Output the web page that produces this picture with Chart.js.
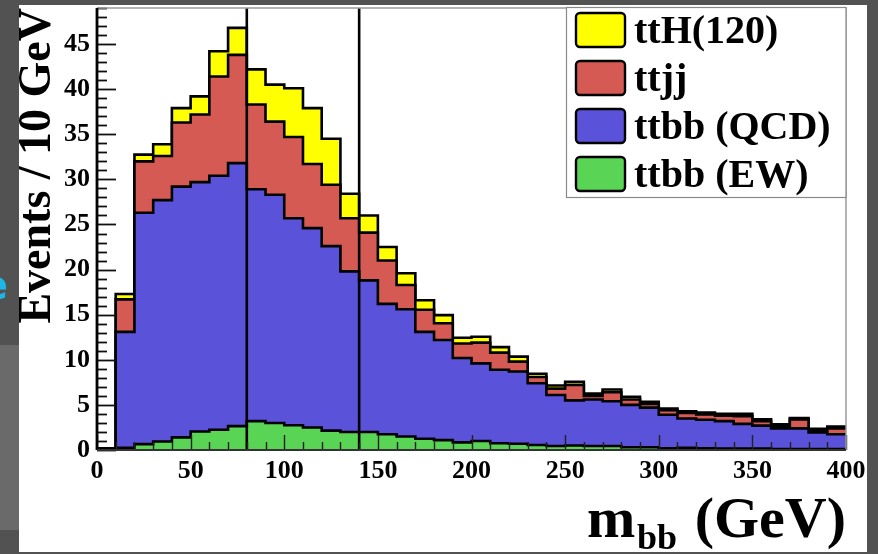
<!DOCTYPE html>
<html>
<head>
<meta charset="utf-8">
<title>m_bb stacked histogram</title>
<script src="https://cdn.jsdelivr.net/npm/chart.js@4.4.0/dist/chart.umd.min.js"></script>
<style>
  html, body { margin: 0; padding: 0; }
  body { width: 878px; height: 554px; background: #525252; position: relative; overflow: hidden; }
  #strip { position: absolute; left: 0; top: 345px; width: 19px; height: 185px; background: #6a6a6a; }
  #cyan { position: absolute; left: -19px; top: 262px; font: bold 40px "DejaVu Sans"; color: #1fb4ea; }
  #panel { position: absolute; left: 19px; top: 5px; width: 848px; height: 547px; background: #fff; }
  canvas { position: absolute; left: 0; top: 0; }
</style>
</head>
<body>
<div id="strip"></div>
<div id="cyan">e</div>
<div id="panel"></div>
<canvas id="chart" width="878" height="554"></canvas>
<script>
// bin edges in GeV (10 GeV bins)
const binEdges = [0, 10, 20, 30, 40, 50, 60, 70, 80, 90, 100, 110, 120, 130, 140, 150, 160, 170, 180, 190,
                  200, 210, 220, 230, 240, 250, 260, 270, 280, 290, 300, 310, 320, 330, 340, 350, 360, 370, 380, 390, 400];

// events per bin, one array per process (stack order: bottom to top)
const ttbbEW  = [0.1, 0.25, 0.65, 0.95, 1.4, 2.05, 2.25, 2.65, 3.2, 3.0, 2.75, 2.5, 2.15, 2.0, 2.0, 1.75, 1.5, 1.25, 1.1, 0.85,
                 1.0, 0.75, 0.7, 0.55, 0.45, 0.5, 0.45, 0.45, 0.3, 0.3, 0.2, 0.25, 0.2, 0.15, 0.15, 0.15, 0.1, 0.1, 0.1, 0.1];
const ttbbQCD = [0.1, 12.85, 25.65, 26.75, 27.8, 27.65, 28.15, 29.15, 25.7, 25.3, 22.95, 22.1, 20.45, 17.8, 16.8, 14.45, 14.1, 11.85, 11.1, 9.35,
                 8.6, 8.15, 8.0, 6.85, 5.65, 5.0, 5.15, 4.95, 4.7, 4.4, 3.7, 3.25, 3.15, 3.05, 2.75, 2.55, 2.3, 2.3, 1.85, 1.65];
const ttjj    = [0.0, 3.6, 5.7, 4.9, 7.1, 7.5, 11.0, 12.0, 9.4, 8.1, 9.0, 7.1, 6.8, 5.9, 5.3, 4.8, 2.7, 2.45, 1.85, 1.6,
                 2.3, 1.9, 1.1, 0.7, 0.7, 1.7, 0.4, 1.0, 0.6, 0.4, 0.5, 0.6, 0.6, 0.6, 0.85, 0.5, 0.3, 1.0, 0.25, 0.65];
const ttH     = [0.0, 0.6, 0.75, 1.3, 1.6, 2.0, 2.8, 3.0, 3.9, 4.1, 5.4, 6.2, 5.1, 2.7, 1.9, 1.5, 1.3, 1.05, 0.9, 0.65,
                 0.65, 0.6, 0.55, 0.35, 0.35, 0.35, 0.25, 0.3, 0.3, 0.25, 0.2, 0.2, 0.2, 0.2, 0.25, 0.2, 0.15, 0.15, 0.15, 0.2];

const seriesNames  = ['ttbb (EW)', 'ttbb (QCD)', 'ttjj', 'ttH(120)'];
const seriesColors = ['#59d455', '#5a52d8', '#d65a54', '#ffff00'];
const cutLines = [80, 140];
const xTickLabels = [0, 50, 100, 150, 200, 250, 300, 350, 400];
const yTickLabels = [0, 5, 10, 15, 20, 25, 30, 35, 40, 45];

const serif = '"Liberation Serif", "DejaVu Serif", serif';

// step histogram points: one per lower bin edge, plus the closing edge at 400
function toPoints(vals) {
    return binEdges.map((x, i) => ({ x: x, y: vals[Math.min(i, vals.length - 1)] }));
}

const allSeries = [ttbbEW, ttbbQCD, ttjj, ttH];
const datasets = allSeries.map((vals, i) => ({
    label: seriesNames[i],
    data: toPoints(vals),
    stepped: true,
    fill: 'origin',
    backgroundColor: seriesColors[i],
    borderColor: '#000',
    borderWidth: 2.6,
    borderJoinStyle: 'miter',
    pointRadius: 0,
    tension: 0
}));

// ROOT-like decorations: inner ticks, cut lines, frame, legend and axis titles
const rootDecor = {
    id: 'rootDecor',
    afterDatasetsDraw(chart) {
        const ctx = chart.ctx;
        const xs = chart.scales.x, ys = chart.scales.y;
        const a = chart.chartArea;
        ctx.save();

        // mass window lines
        ctx.strokeStyle = '#000';
        ctx.lineWidth = 2.6;
        cutLines.forEach(v => {
            const px = xs.getPixelForValue(v);
            ctx.beginPath();
            ctx.moveTo(px, ys.getPixelForValue(0));
            ctx.lineTo(px, a.top);
            ctx.stroke();
        });

        // y ticks (inside the frame)
        ctx.strokeStyle = '#111';
        ctx.lineWidth = 1.8;
        for (let v = 0; v <= ys.max; v += 1) {
            const py = Math.round(ys.getPixelForValue(v)) + 0.5;
            const len = v % 5 === 0 ? 19 : 10;
            ctx.beginPath();
            ctx.moveTo(a.left, py);
            ctx.lineTo(a.left + len, py);
            ctx.stroke();
        }
        // x ticks
        ctx.strokeStyle = '#222';
        ctx.lineWidth = 1.4;
        for (let v = 0; v <= xs.max; v += 10) {
            const px = Math.round(xs.getPixelForValue(v)) + 0.5;
            const len = v % 50 === 0 ? 15 : 8;
            ctx.beginPath();
            ctx.moveTo(px, a.bottom);
            ctx.lineTo(px, a.bottom - len);
            ctx.stroke();
        }

        // frame
        ctx.strokeStyle = '#9a9a9a';
        ctx.lineWidth = 1.5;
        ctx.beginPath();
        ctx.moveTo(a.left, a.top);
        ctx.lineTo(a.right, a.top);
        ctx.lineTo(a.right, a.bottom);
        ctx.stroke();
        ctx.strokeStyle = '#000';
        ctx.lineWidth = 2.8;
        ctx.beginPath();
        ctx.moveTo(a.left, a.top);
        ctx.lineTo(a.left, a.bottom);
        ctx.stroke();
        ctx.strokeStyle = '#333';
        ctx.lineWidth = 2;
        ctx.beginPath();
        ctx.moveTo(a.left, a.bottom);
        ctx.lineTo(a.right, a.bottom);
        ctx.stroke();

        // legend
        const lx = 566.5, ly = a.top - 0.5, lw = a.right - 566.5, lh = 190;
        ctx.fillStyle = '#fff';
        ctx.fillRect(lx, ly, lw, lh);
        ctx.strokeStyle = '#8a8a8a';
        ctx.lineWidth = 1.2;
        ctx.strokeRect(lx, ly, lw, lh);
        const order = [3, 2, 1, 0];
        ctx.font = 'bold 40px ' + serif;
        ctx.textAlign = 'left';
        ctx.textBaseline = 'alphabetic';
        order.forEach((si, row) => {
            const top = 13 + row * 48;
            ctx.beginPath();
            ctx.roundRect(576, top, 49, 34, 4);
            ctx.fillStyle = seriesColors[si];
            ctx.fill();
            ctx.strokeStyle = '#000';
            ctx.lineWidth = 2.4;
            ctx.stroke();
            ctx.fillStyle = '#000';
            ctx.fillText(seriesNames[si], 634, top + 30);
        });

        // y axis title
        ctx.save();
        ctx.translate(50, a.top);
        ctx.rotate(-Math.PI / 2);
        ctx.font = 'bold 46px ' + serif;
        ctx.textAlign = 'right';
        ctx.fillStyle = '#000';
        ctx.fillText('Events / 10 GeV', 0, 0);
        ctx.restore();

        // x axis title: m_bb (GeV)
        ctx.fillStyle = '#000';
        ctx.textAlign = 'right';
        ctx.font = 'bold 58px ' + serif;
        ctx.fillText('(GeV)', a.right, 537);
        ctx.textAlign = 'left';
        ctx.fillText('m', 587, 537);
        ctx.font = 'bold 36px ' + serif;
        ctx.fillText('bb', 637, 549);

        ctx.restore();
    }
};

new Chart(document.getElementById('chart'), {
    type: 'line',
    data: { datasets: datasets },
    options: {
        responsive: false,
        animation: false,
        layout: { padding: { left: 0, right: 32, top: 8, bottom: 0 } },
        plugins: {
            legend: { display: false },
            tooltip: { enabled: false }
        },
        scales: {
            x: {
                type: 'linear',
                min: xTickLabels[0],
                max: xTickLabels[xTickLabels.length - 1],
                grid: { display: false, drawTicks: false },
                border: { display: false },
                ticks: {
                    stepSize: 50,
                    padding: 6,
                    color: '#000',
                    font: { family: serif, size: 26, weight: 'bold' },
                    maxRotation: 0
                },
                afterFit(scale) {
                    scale.height = 104;
                    scale.paddingLeft = 0;
                    scale.paddingRight = 0;
                }
            },
            y: {
                type: 'linear',
                stacked: true,
                min: yTickLabels[0],
                max: 49,
                grid: { display: false, drawTicks: false },
                border: { display: false },
                ticks: {
                    stepSize: 5,
                    includeBounds: false,
                    padding: 7,
                    color: '#000',
                    font: { family: serif, size: 26, weight: 'bold' }
                },
                afterFit(scale) {
                    scale.width = 97;
                    scale.paddingTop = 0;
                    scale.paddingBottom = 0;
                }
            }
        }
    },
    plugins: [rootDecor]
});
</script>
</body>
</html>
